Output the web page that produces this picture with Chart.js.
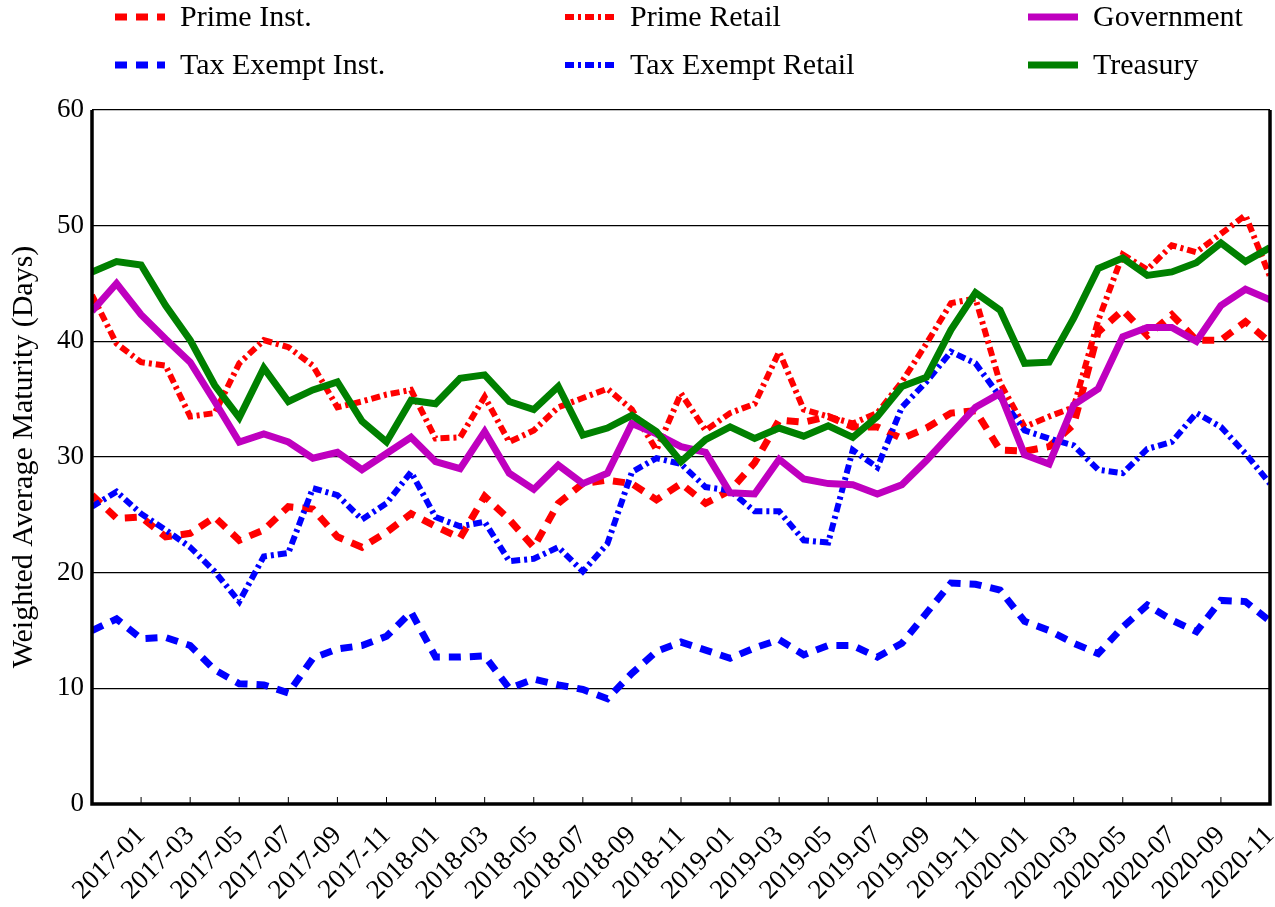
<!DOCTYPE html>
<html>
<head>
<meta charset="utf-8">
<script src="https://cdn.jsdelivr.net/npm/chart.js@4.4.1/dist/chart.umd.min.js"></script>
<style>
  html, body { margin: 0; padding: 0; background: #fff; }
  #wrap { width: 1275px; height: 907px; }
</style>
</head>
<body>
<div id="wrap"><canvas id="chart"></canvas></div>
<script>
// monthly points, Nov 2016 .. Nov 2020
const months = [
  "2016-11", "2016-12",
  "2017-01", "2017-02", "2017-03", "2017-04", "2017-05", "2017-06",
  "2017-07", "2017-08", "2017-09", "2017-10", "2017-11", "2017-12",
  "2018-01", "2018-02", "2018-03", "2018-04", "2018-05", "2018-06",
  "2018-07", "2018-08", "2018-09", "2018-10", "2018-11", "2018-12",
  "2019-01", "2019-02", "2019-03", "2019-04", "2019-05", "2019-06",
  "2019-07", "2019-08", "2019-09", "2019-10", "2019-11", "2019-12",
  "2020-01", "2020-02", "2020-03", "2020-04", "2020-05", "2020-06",
  "2020-07", "2020-08", "2020-09", "2020-10", "2020-11"
];

// labelled ticks on the x axis
const xTickLabels = [
  "2017-01", "2017-03", "2017-05", "2017-07", "2017-09", "2017-11",
  "2018-01", "2018-03", "2018-05", "2018-07", "2018-09", "2018-11",
  "2019-01", "2019-03", "2019-05", "2019-07", "2019-09", "2019-11",
  "2020-01", "2020-03", "2020-05", "2020-07", "2020-09", "2020-11"
];

const primeInst = [26.7, 24.7, 24.8, 23.1, 23.4, 24.8, 22.8, 23.7, 25.7, 25.5, 23.1, 22.2, 23.5, 25.1, 24.0, 23.0, 26.6, 24.6, 22.2, 26.0, 27.7, 28.0, 27.7, 26.3, 27.7, 26.0, 27.1, 29.5, 33.2, 33.0, 33.5, 32.6, 32.6, 31.6, 32.5, 33.8, 34.0, 30.6, 30.5, 30.9, 32.8, 40.8, 42.7, 40.5, 42.3, 40.1, 40.1, 41.7, 39.9];
const primeRetail = [44.0, 39.8, 38.2, 37.9, 33.5, 33.8, 38.1, 40.1, 39.5, 37.9, 34.3, 34.8, 35.4, 35.8, 31.6, 31.7, 35.2, 31.3, 32.3, 34.3, 35.1, 35.9, 34.1, 30.6, 35.5, 32.3, 33.8, 34.6, 39.1, 34.1, 33.5, 32.9, 33.8, 36.5, 39.8, 43.3, 43.7, 36.4, 32.6, 33.5, 34.3, 41.8, 47.5, 46.2, 48.3, 47.7, 49.3, 50.9, 45.6];
const government = [42.6, 45.0, 42.3, 40.2, 38.2, 34.8, 31.3, 32.0, 31.3, 29.9, 30.4, 28.9, 30.3, 31.7, 29.6, 29.0, 32.2, 28.6, 27.2, 29.3, 27.7, 28.6, 32.9, 32.0, 30.9, 30.4, 26.9, 26.8, 29.8, 28.1, 27.7, 27.6, 26.8, 27.6, 29.7, 32.0, 34.3, 35.5, 30.2, 29.4, 34.5, 35.9, 40.4, 41.2, 41.2, 40.0, 43.1, 44.5, 43.6];
const taxExemptInst = [15.0, 16.0, 14.3, 14.4, 13.7, 11.6, 10.4, 10.3, 9.6, 12.6, 13.4, 13.7, 14.5, 16.6, 12.7, 12.7, 12.8, 10.0, 10.8, 10.3, 9.9, 9.1, 11.3, 13.2, 14.0, 13.3, 12.6, 13.5, 14.2, 12.9, 13.7, 13.7, 12.7, 13.9, 16.5, 19.1, 19.0, 18.5, 15.8, 15.0, 13.9, 13.0, 15.3, 17.2, 15.9, 14.9, 17.6, 17.5, 15.8];
const taxExemptRetail = [25.7, 27.0, 25.1, 23.7, 22.2, 20.1, 17.5, 21.4, 21.7, 27.3, 26.7, 24.6, 26.0, 28.7, 24.8, 24.0, 24.4, 21.0, 21.2, 22.2, 20.1, 22.5, 28.7, 29.9, 29.4, 27.4, 27.1, 25.3, 25.3, 22.8, 22.6, 30.6, 29.1, 34.3, 36.5, 39.1, 38.1, 35.2, 32.3, 31.6, 31.0, 28.9, 28.6, 30.7, 31.3, 33.8, 32.6, 30.3, 27.7];
const treasury = [46.0, 46.9, 46.6, 43.1, 40.1, 36.2, 33.4, 37.7, 34.8, 35.8, 36.5, 33.1, 31.3, 34.9, 34.6, 36.8, 37.1, 34.8, 34.1, 36.1, 31.9, 32.5, 33.6, 32.2, 29.6, 31.5, 32.6, 31.6, 32.5, 31.8, 32.7, 31.7, 33.5, 36.1, 36.9, 41.0, 44.2, 42.7, 38.1, 38.2, 42.0, 46.3, 47.2, 45.7, 46.0, 46.8, 48.5, 46.9, 48.1];

const yTicks = [0, 10, 20, 30, 40, 50, 60];

const SERIF = "'Liberation Serif', 'DejaVu Serif', serif";
const DASHED = [12, 9];
const DASHDOT = [9, 4, 3, 4];

function series(label, data, color, dash, width, order) {
  return {
    label, data,
    borderColor: color,
    backgroundColor: color,
    borderDash: dash,
    borderWidth: width,
    pointRadius: 0,
    tension: 0,
    fill: false,
    clip: 0,
    order
  };
}

// legend laid out like the original: 3 columns x 2 rows
const legendPlugin = {
  id: "gridLegend",
  afterDraw(chart) {
    const ctx = chart.ctx;
    const cols = [115, 565, 1028];
    const rows = [17, 65];
    chart.data.datasets.forEach((ds, i) => {
      const x = cols[i % 3], y = rows[Math.floor(i / 3)];
      ctx.save();
      ctx.strokeStyle = ds.borderColor;
      ctx.lineWidth = ds.borderWidth;
      ctx.setLineDash(ds.borderDash);
      ctx.beginPath();
      ctx.moveTo(x, y);
      ctx.lineTo(x + 50, y);
      ctx.stroke();
      ctx.setLineDash([]);
      ctx.fillStyle = "#000";
      ctx.font = "30px " + SERIF;
      ctx.textBaseline = "middle";
      ctx.fillText(ds.label, x + 65, y + 1);
      ctx.restore();
    });
  }
};

// thick frame and small inward tick marks
const framePlugin = {
  id: "frame",
  afterDatasetsDraw(chart) {
    const { ctx, chartArea: a, scales } = chart;
    ctx.save();
    ctx.strokeStyle = "#000";
    ctx.lineWidth = 1;
    scales.x.ticks.forEach((t, i) => {
      if (!t.label) return;
      const px = scales.x.getPixelForTick(i);
      ctx.beginPath();
      ctx.moveTo(px, a.bottom);
      ctx.lineTo(px, a.bottom - 7);
      ctx.stroke();
    });
    ctx.lineWidth = 3.5;
    ctx.beginPath();
    ctx.moveTo(a.left, a.top);
    ctx.lineTo(a.left, a.bottom);
    ctx.lineTo(a.right, a.bottom);
    ctx.lineTo(a.right, a.top);
    ctx.stroke();
    ctx.restore();
  }
};

new Chart(document.getElementById("chart"), {
  type: "line",
  data: {
    labels: months,
    datasets: [
      series("Prime Inst.", primeInst, "#ff0000", DASHED, 7, 6),
      series("Prime Retail", primeRetail, "#ff0000", DASHDOT, 6, 4),
      series("Government", government, "#bf00bf", [], 7, 2),
      series("Tax Exempt Inst.", taxExemptInst, "#0000ff", DASHED, 7, 5),
      series("Tax Exempt Retail", taxExemptRetail, "#0000ff", DASHDOT, 6, 3),
      series("Treasury", treasury, "#008000", [], 7, 1)
    ]
  },
  options: {
    responsive: true,
    maintainAspectRatio: false,
    animation: false,
    layout: { padding: { top: 110, right: 5, left: 0, bottom: 0 } },
    plugins: {
      legend: { display: false },
      tooltip: { enabled: false }
    },
    scales: {
      x: {
        type: "category",
        offset: false,
        grid: { display: false },
        border: { display: false },
        ticks: {
          autoSkip: false,
          maxRotation: 45,
          minRotation: 45,
          padding: 8,
          color: "#000",
          font: { family: SERIF, size: 27 },
          callback(value) {
            const m = months[value];
            return xTickLabels.includes(m) ? m : "";
          }
        },
        afterFit(scale) {
          scale.height = 103;
          scale.paddingLeft = 0;
          scale.paddingRight = 0;
        }
      },
      y: {
        min: 0,
        max: 60,
        afterBuildTicks(scale) { scale.ticks = yTicks.map(v => ({ value: v })); },
        grid: { color: "#000", lineWidth: 1.3, drawTicks: false },
        border: { display: false },
        ticks: {
          padding: 8,
          color: "#000",
          font: { family: SERIF, size: 27 }
        },
        title: {
          display: true,
          text: "Weighted Average Maturity (Days)",
          color: "#000",
          font: { family: SERIF, size: 30 },
          padding: { top: 6, bottom: 0 }
        },
        afterFit(scale) { scale.width = 92; }
      }
    }
  },
  plugins: [legendPlugin, framePlugin]
});
</script>
</body>
</html>
